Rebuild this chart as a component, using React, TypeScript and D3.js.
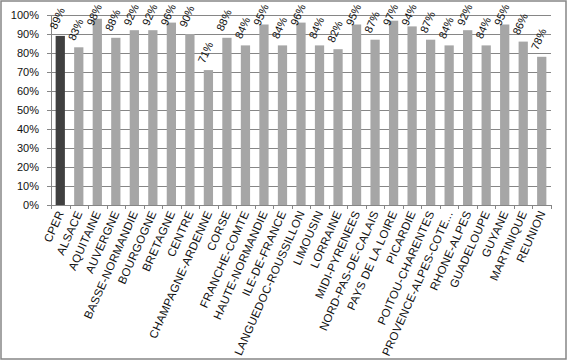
import React, { useEffect, useRef } from "react"
import * as d3 from "d3"

const regions = [
    "CPER", "ALSACE", "AQUITAINE", "AUVERGNE", "BASSE-NORMANDIE", "BOURGOGNE",
    "BRETAGNE", "CENTRE", "CHAMPAGNE-ARDENNE", "CORSE", "FRANCHE-COMTE",
    "HAUTE-NORMANDIE", "ILE-DE-FRANCE", "LANGUEDOC-ROUSSILLON", "LIMOUSIN",
    "LORRAINE", "MIDI-PYRENEES", "NORD-PAS-DE-CALAIS", "PAYS DE LA LOIRE",
    "PICARDIE", "POITOU-CHARENTES", "PROVENCE-ALPES-COTE...", "RHONE-ALPES",
    "GUADELOUPE", "GUYANE", "MARTINIQUE", "REUNION",
]
const rates = [
    0.89, 0.83, 0.98, 0.88, 0.92, 0.92, 0.96, 0.90, 0.71, 0.88, 0.84, 0.95,
    0.84, 0.96, 0.84, 0.82, 0.95, 0.87, 0.97, 0.94, 0.87, 0.84, 0.92, 0.84,
    0.95, 0.86, 0.78,
]
const yTicks = [0, 0.1, 0.2, 0.3, 0.4, 0.5, 0.6, 0.7, 0.8, 0.9, 1]

const W = 568
const H = 361
const FONT = "'Liberation Sans', Arial, sans-serif"
const ANGLE = 66

export default function App() {
    const ref = useRef<SVGSVGElement>(null)

    useEffect(() => {
        if (!ref.current) return
        const svg = d3.select(ref.current)
        svg.selectAll("*").remove()

        const margin = { top: 15, right: 17, bottom: 156, left: 51 }
        const width = W - margin.left - margin.right
        const height = H - margin.top - margin.bottom
        const sin = Math.sin((ANGLE * Math.PI) / 180)
        const cos = Math.cos((ANGLE * Math.PI) / 180)

        // outer frame
        svg.append("rect")
            .attr("x", 1).attr("y", 1)
            .attr("width", 565).attr("height", 358)
            .attr("fill", "#fff")
            .attr("stroke", "#868686")
            .attr("stroke-width", 1.5)

        const g = svg.append("g")
            .attr("transform", "translate(" + margin.left + "," + margin.top + ")")

        const x = d3.scaleBand().domain(regions).range([0, width])
        const y = d3.scaleLinear().domain([0, 1]).range([height, 0])
        const fmt = d3.format(".0%")

        // gridlines
        g.append("g")
            .selectAll("line")
            .data(yTicks)
            .enter()
            .append("line")
            .attr("x1", -4)
            .attr("x2", width)
            .attr("y1", (d) => Math.round(y(d)) + 0.5)
            .attr("y2", (d) => Math.round(y(d)) + 0.5)
            .attr("stroke", "#868686")
            .attr("stroke-width", 1)

        // y labels
        g.append("g")
            .selectAll("text")
            .data(yTicks)
            .enter()
            .append("text")
            .attr("x", -12)
            .attr("y", (d) => y(d) + 4)
            .attr("text-anchor", "end")
            .attr("font-family", FONT)
            .attr("font-size", "11px")
            .attr("fill", "#111")
            .text((d) => fmt(d))

        // y axis line
        g.append("line")
            .attr("x1", 0.5).attr("x2", 0.5)
            .attr("y1", 0).attr("y2", height)
            .attr("stroke", "#868686")

        // bars
        const barW = x.bandwidth() / 2
        g.append("g")
            .selectAll("rect")
            .data(regions)
            .enter()
            .append("rect")
            .attr("x", (d) => x(d)! + x.bandwidth() / 2 - barW / 2)
            .attr("y", (d, i) => y(rates[i]))
            .attr("width", barW)
            .attr("height", (d, i) => height - y(rates[i]))
            .attr("fill", (d, i) => (i === 0 ? "#404040" : "#a6a6a6"))

        // x axis ticks
        const bounds = regions.map((d) => x(d)!).concat([width])
        g.append("g")
            .selectAll("line")
            .data(bounds)
            .enter()
            .append("line")
            .attr("x1", (d) => Math.round(d) + 0.5)
            .attr("x2", (d) => Math.round(d) + 0.5)
            .attr("y1", height)
            .attr("y2", height + 4)
            .attr("stroke", "#868686")

        // value labels, kept inside the frame at the top
        const labels = g.append("g")
            .selectAll("text")
            .data(regions)
            .enter()
            .append("text")
            .attr("font-family", FONT)
            .attr("font-size", "11px")
            .attr("fill", "#111")
            .text((d, i) => fmt(rates[i]))
        labels.attr("transform", function (d, i) {
            const len = (this as SVGTextElement).getComputedTextLength()
            const minY = 3 - margin.top + len * sin + 8 * cos
            const cx = x(d)! + x.bandwidth() / 2 - 4
            const cy = Math.max(y(rates[i]) - 6, minY)
            return "translate(" + cx + "," + cy + ") rotate(-" + ANGLE + ")"
        })

        // category labels
        g.append("g")
            .selectAll("text")
            .data(regions)
            .enter()
            .append("text")
            .attr("transform", (d) => {
                const cx = x(d)! + x.bandwidth() / 2 + 4
                const cy = height + 8
                return "translate(" + cx + "," + cy + ") rotate(-" + ANGLE + ")"
            })
            .attr("text-anchor", "end")
            .attr("font-family", FONT)
            .attr("font-size", "11.5px")
            .attr("letter-spacing", "0.3px")
            .attr("fill", "#111")
            .text((d) => d)
    }, [])

    return (
        <svg
            ref={ref}
            width={W}
            height={H}
            style={{ position: "absolute", left: 0, top: 0 }}
        />
    )
}
